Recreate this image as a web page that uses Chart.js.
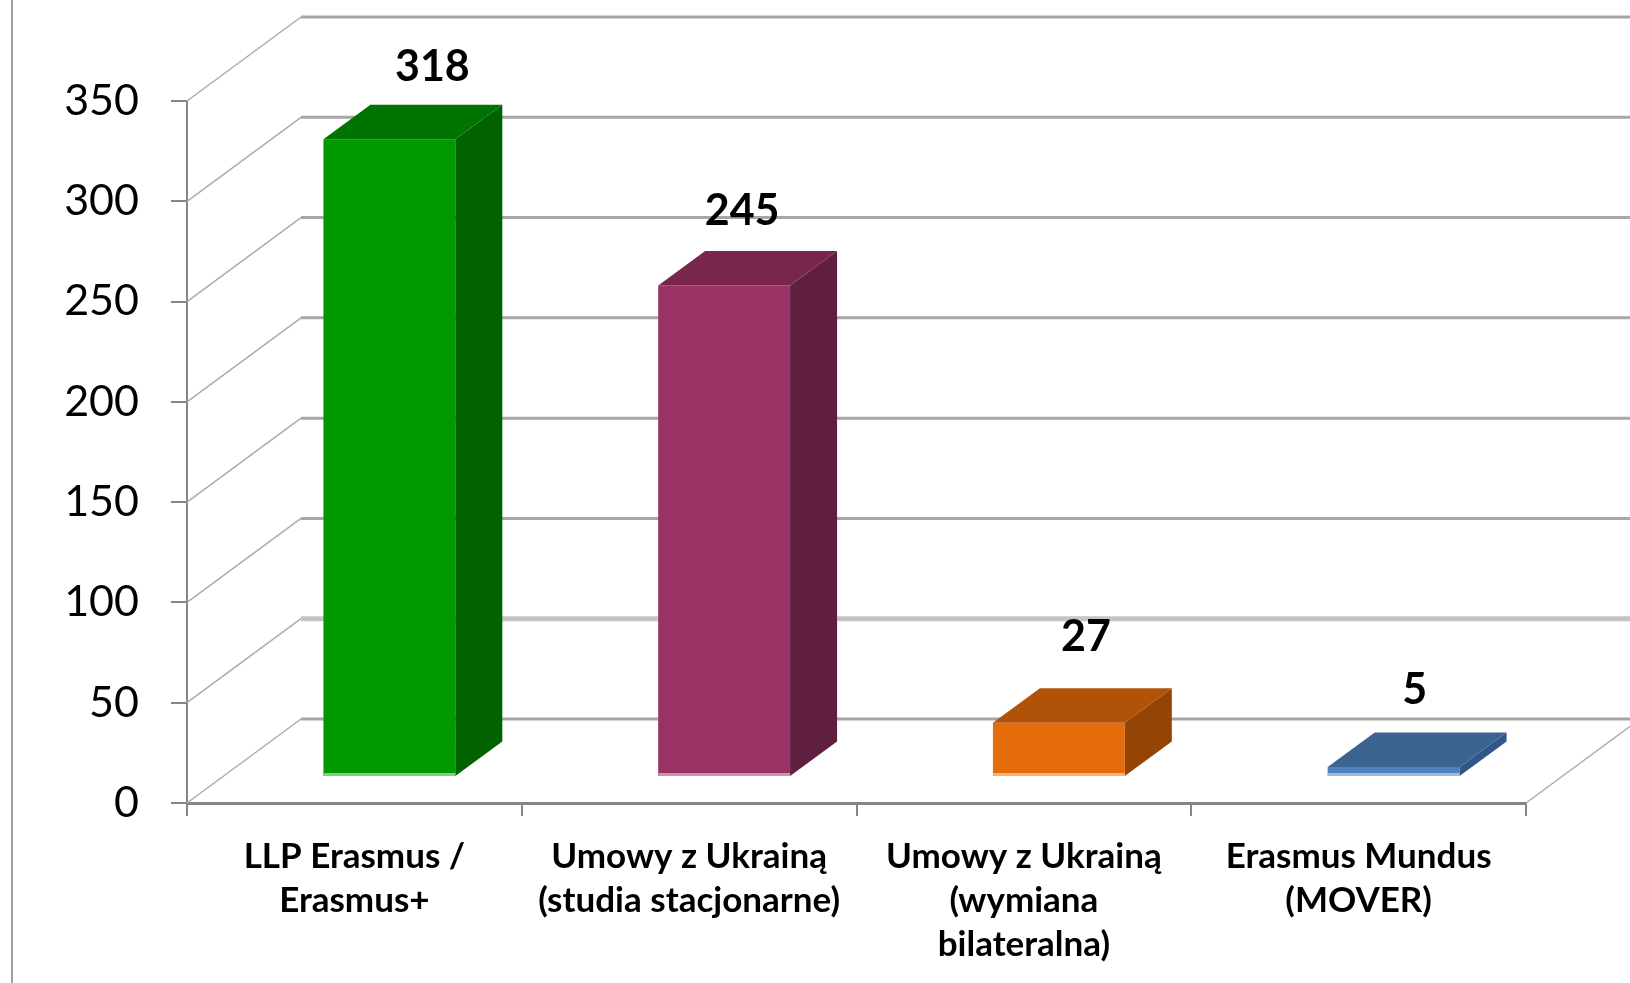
<!DOCTYPE html>
<html><head><meta charset="utf-8">
<script src="https://cdn.jsdelivr.net/npm/chart.js@4/dist/chart.umd.min.js"></script>
<style>html,body{margin:0;padding:0;background:#fff;overflow:hidden}</style>
</head><body>
<canvas id="c" width="1630" height="983"></canvas>
<script>
// ---- data ----
const categories = [
  ["LLP Erasmus /", "Erasmus+"],
  ["Umowy z Ukrainą", "(studia stacjonarne)"],
  ["Umowy z Ukrainą", "(wymiana", "bilateralna)"],
  ["Erasmus Mundus", "(MOVER)"]
];
const values = [318, 245, 27, 5];
const yTicks = [0, 50, 100, 150, 200, 250, 300, 350];

// ---- styles ----
const frontColors = ['#009900', '#993366', '#E46C0A', '#4F81BD'];
const topColors   = ['#007400', '#78264C', '#B05308', '#3C6491'];
const sideColors  = ['#006300', '#611F40', '#944506', '#30568A'];
const edgeColors  = ['#7FD07F', '#D090B0', '#F5B27A', '#9BB9DE'];
// data label nudges (relative to each bar's top face)
const labelShiftX = [43, 18, 27, 21];
const labelGap    = [24, 26, 37, 28];

// 3D geometry
const DX = 114, DY = -84;            // full wall depth
const BX = 35,  BY = -26;            // bar front plane offset
const SX = 47,  SY = -34.5;          // bar depth

const threeD = {
  id: 'threeD',
  beforeDatasetsDraw(chart) {
    const {ctx, chartArea: a, scales: {y}} = chart;
    ctx.save();
    yTicks.forEach(v => {
      const py = y.getPixelForValue(v);
      ctx.strokeStyle = '#ababab'; ctx.lineWidth = 1.5;
      ctx.beginPath(); ctx.moveTo(a.left, py); ctx.lineTo(a.left + DX, py + DY); ctx.stroke();
      ctx.strokeStyle = v === 50 ? '#c4c4c4' : '#a6a6a6';
      ctx.lineWidth = v === 50 ? 5 : 3;
      ctx.beginPath(); ctx.moveTo(a.left + DX, py + DY); ctx.lineTo(a.right + DX + 10, py + DY); ctx.stroke();
    });
    const p0 = y.getPixelForValue(0);
    ctx.strokeStyle = '#ababab'; ctx.lineWidth = 1.5;
    ctx.beginPath(); ctx.moveTo(a.right, p0); ctx.lineTo(a.right + DX, p0 + DY); ctx.stroke();
    ctx.restore();
    ctx.save();
    ctx.translate(BX, BY);
  },
  afterDatasetsDraw(chart) {
    const ctx = chart.ctx;
    const meta = chart.getDatasetMeta(0);
    meta.data.forEach((bar, i) => {
      const l = bar.x - bar.width / 2, r = bar.x + bar.width / 2, t = bar.y, b = bar.base;
      ctx.fillStyle = sideColors[i];
      ctx.beginPath();
      ctx.moveTo(r, t); ctx.lineTo(r + SX, t + SY); ctx.lineTo(r + SX, b + SY); ctx.lineTo(r, b);
      ctx.closePath(); ctx.fill();
      ctx.fillStyle = topColors[i];
      ctx.beginPath();
      ctx.moveTo(l, t); ctx.lineTo(r, t); ctx.lineTo(r + SX, t + SY); ctx.lineTo(l + SX, t + SY);
      ctx.closePath(); ctx.fill();
      ctx.fillStyle = edgeColors[i];
      ctx.fillRect(l, b - 3, r - l, 3);
    });
    ctx.restore();
    ctx.save();
    ctx.fillStyle = '#000';
    ctx.font = 'bold 43px Lato';
    ctx.textAlign = 'center';
    ctx.textBaseline = 'alphabetic';
    meta.data.forEach((bar, i) => {
      const x = bar.x + BX + labelShiftX[i];
      const yb = bar.y + BY + SY - labelGap[i];
      ctx.fillText(String(values[i]), x, yb);
    });
    ctx.restore();
  },
  afterDraw(chart) {
    const ctx = chart.ctx;
    ctx.save();
    ctx.strokeStyle = '#a0a0a0'; ctx.lineWidth = 2;
    ctx.beginPath(); ctx.moveTo(12, 0); ctx.lineTo(12, 983); ctx.stroke();
    ctx.restore();
  }
};

new Chart(document.getElementById('c'), {
  type: 'bar',
  data: {
    labels: categories,
    datasets: [{
      data: values,
      backgroundColor: frontColors,
      borderWidth: 0,
      categoryPercentage: 1,
      barPercentage: 0.394
    }]
  },
  options: {
    responsive: false,
    animation: false,
    devicePixelRatio: 1,
    layout: {padding: {left: 0, top: 101, right: 104, bottom: 0}},
    plugins: {legend: {display: false}, tooltip: {enabled: false}},
    scales: {
      x: {
        grid: {offset: true, drawOnChartArea: false, drawTicks: true, tickLength: 13, color: '#868686', lineWidth: 2},
        border: {display: true, color: '#868686', width: 3},
        ticks: {font: {family: 'Lato', size: 35, weight: 'bold', lineHeight: '44px'}, color: '#000', padding: 19, maxRotation: 0, autoSkip: false},
        afterFit(s) { s.height = 180; }
      },
      y: {
        min: 0, max: 350,
        afterBuildTicks(s) { s.ticks = yTicks.map(v => ({value: v})); },
        ticks: {font: {family: 'Lato', size: 43}, color: '#000', padding: 32},
        grid: {drawOnChartArea: false, drawTicks: true, tickLength: 16, color: '#868686', lineWidth: 2},
        border: {display: true, color: '#868686', width: 2},
        afterFit(s) { s.width = 187; }
      }
    }
  },
  plugins: [threeD]
});
</script>
</body></html>
